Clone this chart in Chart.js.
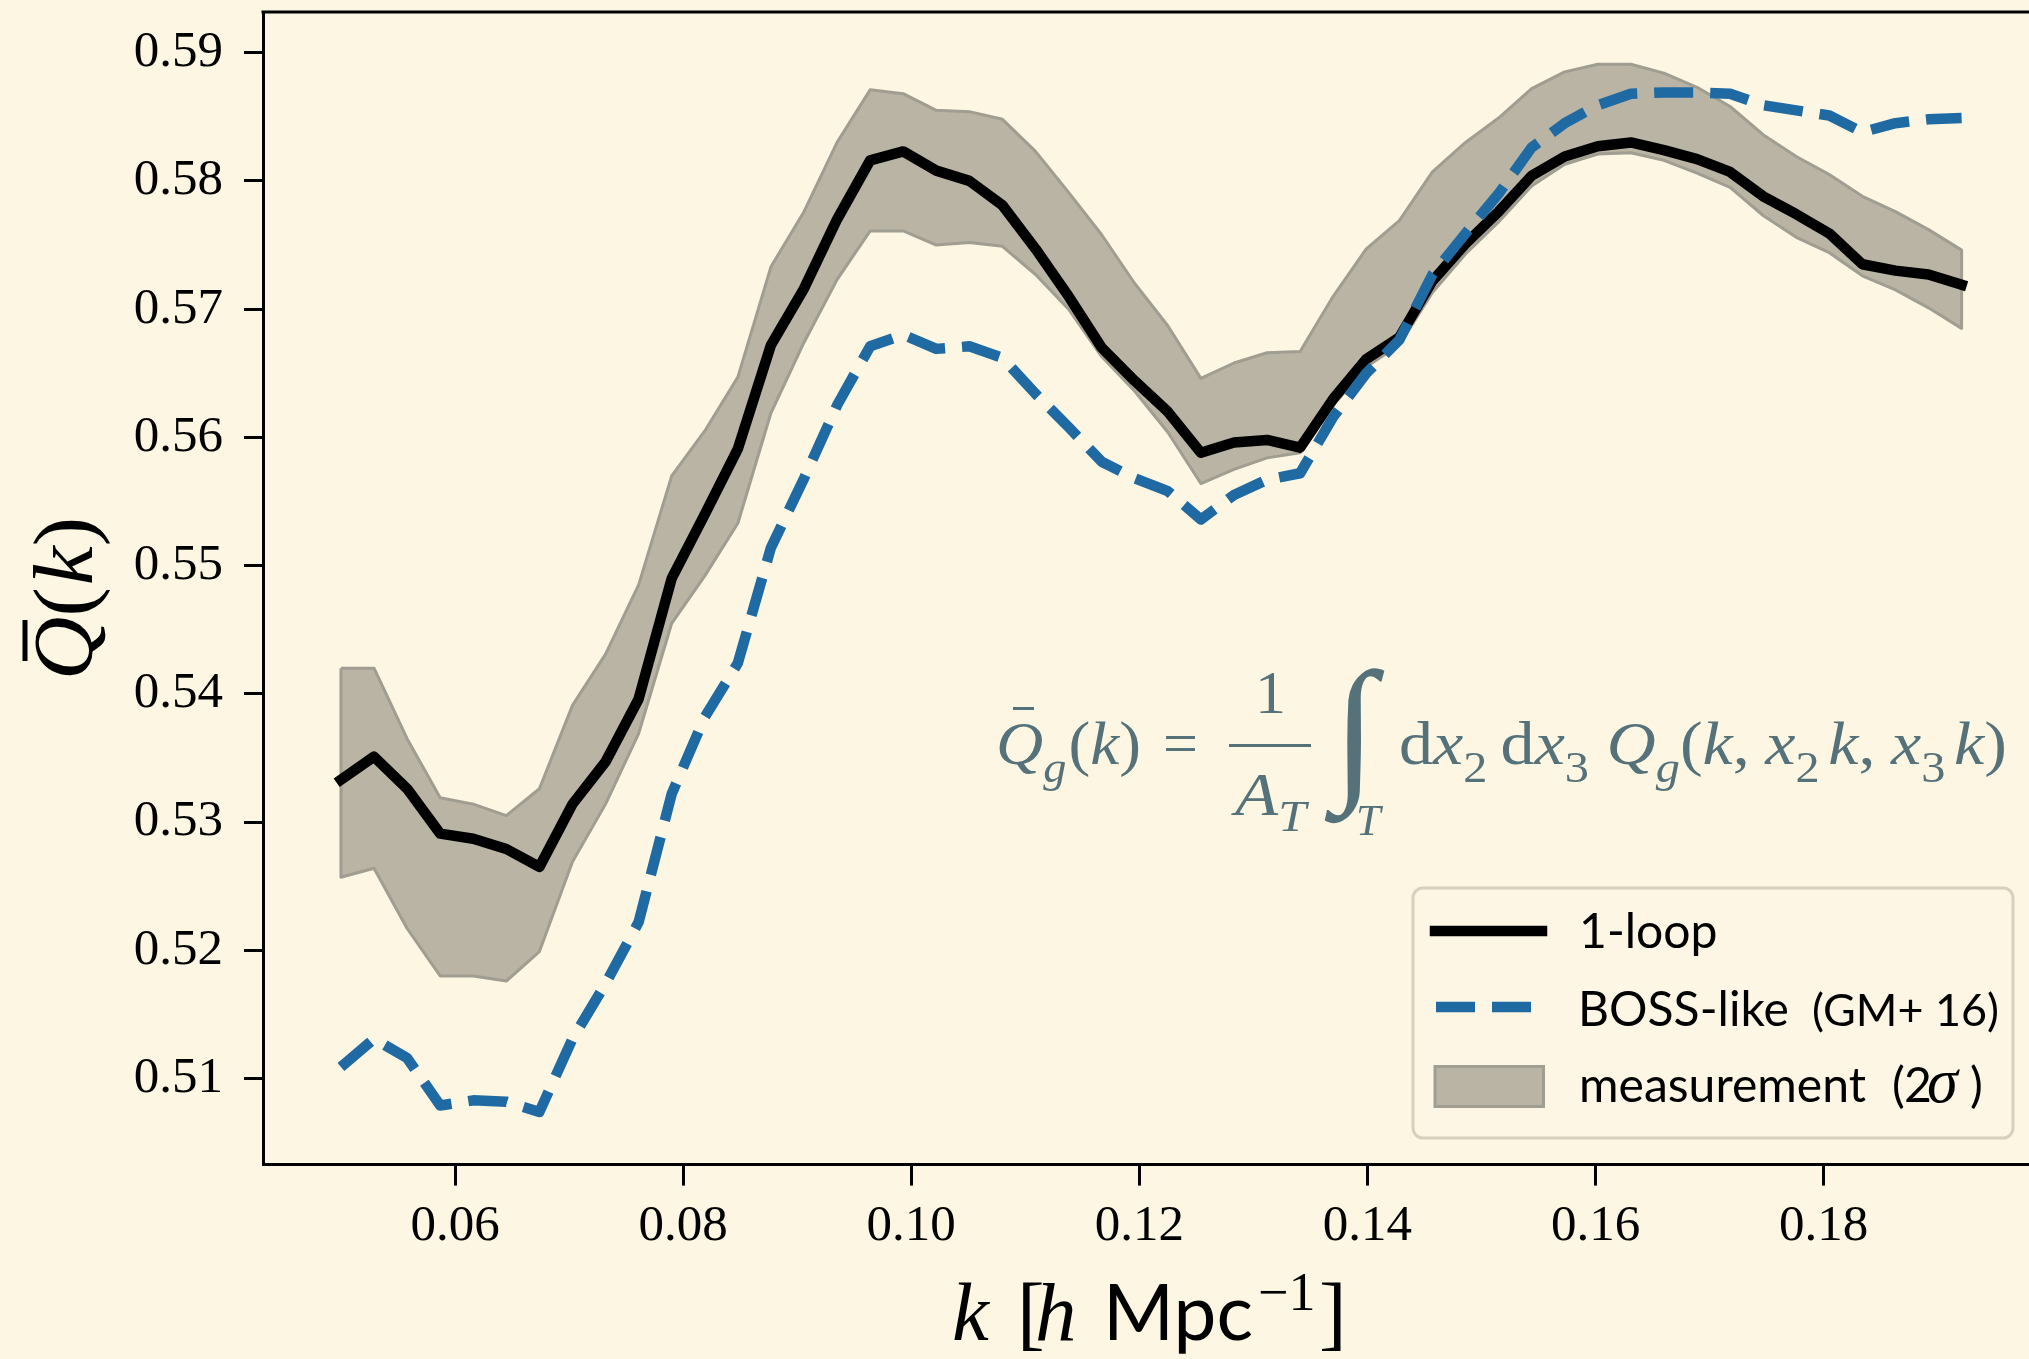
<!DOCTYPE html>
<html>
<head>
<meta charset="utf-8">
<title>Q(k) bispectrum ratio</title>
<script src="https://cdn.jsdelivr.net/npm/chart.js@4.4.0/dist/chart.umd.min.js"></script>
<style>
  html, body { margin: 0; padding: 0; background: #fdf6e3; }
  canvas { display: block; }
</style>
</head>
<body>
<canvas id="qChart" width="2029" height="1359"></canvas>
<script>
// k bins [h/Mpc]
const kValues = [0.0500, 0.0529, 0.0558, 0.0587, 0.0616, 0.0645, 0.0674, 0.0703, 0.0732, 0.0761,
                 0.0790, 0.0819, 0.0848, 0.0877, 0.0906, 0.0935, 0.0964, 0.0993, 0.1022, 0.1051,
                 0.1080, 0.1109, 0.1138, 0.1167, 0.1196, 0.1225, 0.1254, 0.1283, 0.1312, 0.1341,
                 0.1370, 0.1399, 0.1428, 0.1457, 0.1486, 0.1515, 0.1544, 0.1573, 0.1602, 0.1631,
                 0.1660, 0.1689, 0.1718, 0.1747, 0.1776, 0.1805, 0.1834, 0.1863, 0.1892, 0.1921];

const oneLoop = [0.5333, 0.5351, 0.5326, 0.5291, 0.5287, 0.5279, 0.5265, 0.5314, 0.5347, 0.5396,
                 0.5490, 0.5540, 0.5591, 0.5672, 0.5716, 0.5770, 0.5816, 0.5823, 0.5808, 0.5800,
                 0.5781, 0.5747, 0.5710, 0.5670, 0.5644, 0.5620, 0.5588, 0.5596, 0.5598, 0.5592,
                 0.5630, 0.5661, 0.5678, 0.5722, 0.5751, 0.5776, 0.5804, 0.5819, 0.5827, 0.5830,
                 0.5824, 0.5817, 0.5807, 0.5788, 0.5774, 0.5759, 0.5735, 0.5730, 0.5727, 0.5719];

const bossLike = [0.5109, 0.5131, 0.5116, 0.5079, 0.5083, 0.5082, 0.5074, 0.5131, 0.5174, 0.5222,
                  0.5322, 0.5382, 0.5424, 0.5514, 0.5568, 0.5625, 0.5671, 0.5680, 0.5669, 0.5671,
                  0.5662, 0.5634, 0.5608, 0.5581, 0.5568, 0.5558, 0.5536, 0.5555, 0.5567, 0.5572,
                  0.5616, 0.5650, 0.5676, 0.5727, 0.5759, 0.5790, 0.5826, 0.5845, 0.5859, 0.5868,
                  0.5869, 0.5869, 0.5868, 0.5859, 0.5855, 0.5851, 0.5838, 0.5845, 0.5848, 0.5849];

const measLower = [0.5257, 0.5264, 0.5217, 0.5180, 0.5180, 0.5176, 0.5199, 0.5269, 0.5314, 0.5369,
                   0.5455, 0.5492, 0.5533, 0.5619, 0.5674, 0.5723, 0.5761, 0.5761, 0.5750, 0.5752,
                   0.5749, 0.5727, 0.5700, 0.5663, 0.5636, 0.5604, 0.5564, 0.5575, 0.5584, 0.5588,
                   0.5625, 0.5655, 0.5672, 0.5713, 0.5743, 0.5768, 0.5796, 0.5813, 0.5821, 0.5822,
                   0.5816, 0.5806, 0.5795, 0.5773, 0.5756, 0.5744, 0.5726, 0.5715, 0.5701, 0.5685];

const measUpper = [0.5420, 0.5420, 0.5365, 0.5319, 0.5314, 0.5305, 0.5326, 0.5391, 0.5431, 0.5485,
                   0.5570, 0.5605, 0.5647, 0.5733, 0.5776, 0.5830, 0.5871, 0.5868, 0.5855, 0.5854,
                   0.5848, 0.5823, 0.5791, 0.5758, 0.5720, 0.5687, 0.5646, 0.5658, 0.5666, 0.5667,
                   0.5710, 0.5747, 0.5769, 0.5807, 0.5830, 0.5849, 0.5872, 0.5885, 0.5891, 0.5891,
                   0.5884, 0.5873, 0.5858, 0.5836, 0.5819, 0.5805, 0.5788, 0.5776, 0.5762, 0.5746];

const xTicks = [0.06, 0.08, 0.10, 0.12, 0.14, 0.16, 0.18];
const yTicks = [0.51, 0.52, 0.53, 0.54, 0.55, 0.56, 0.57, 0.58, 0.59];

const bgColor = '#fdf6e3';
const bandFill = '#b9b4a3';
const bandEdge = '#a09d91';
const blueColor = '#1f6aa3';
const formulaColor = '#557179';

const serif = '"Liberation Serif", "DejaVu Serif", serif';
const rm = s => s + 'px ' + serif;
const it = s => 'italic ' + s + 'px ' + serif;
const sans = s => s + 'px Lato, "Open Sans", sans-serif';

// closed outline of the 2-sigma band: upper edge forwards, lower edge back
const bandPoints = kValues.map((k, i) => ({ x: k, y: measUpper[i] }))
  .concat(kValues.map((k, i) => ({ x: k, y: measLower[i] })).reverse());
bandPoints.push(bandPoints[0]);

// draw a sequence of text pieces, squeezed/stretched to span x0..x1
function fitRuns(ctx, runs, x0, x1, base) {
  let w = 0;
  runs.forEach(r => { ctx.font = r.f; w += ctx.measureText(r.t).width + (r.gap || 0); });
  ctx.save();
  ctx.translate(x0, base);
  ctx.scale((x1 - x0) / w, 1);
  let x = 0;
  runs.forEach(r => {
    ctx.font = r.f;
    ctx.fillText(r.t, x, r.dy || 0);
    x += ctx.measureText(r.t).width + (r.gap || 0);
  });
  ctx.restore();
}

// place text so that its visible left edge sits at `left`
function drawAt(ctx, text, font, left, base) {
  ctx.font = font;
  const m = ctx.measureText(text);
  ctx.fillText(text, left + m.actualBoundingBoxLeft, base);
}

// font size that makes `text` span `width` pixels
function sizeFor(ctx, text, fontFn, width) {
  ctx.font = fontFn(100);
  return 100 * width / ctx.measureText(text).width;
}

function drawIntegral(ctx, left, top, bottom) {
  ctx.font = rm(100);
  let m = ctx.measureText('∫');
  const size = 100 * (bottom - top) / (m.actualBoundingBoxAscent + m.actualBoundingBoxDescent);
  ctx.font = rm(size);
  m = ctx.measureText('∫');
  ctx.fillText('∫', left + m.actualBoundingBoxLeft, top + m.actualBoundingBoxAscent);
}

function drawYTitle(ctx) {
  ctx.save();
  ctx.fillStyle = '#000';
  ctx.translate(91.5, 680);
  ctx.rotate(-Math.PI / 2);
  fitRuns(ctx, [
    { t: 'Q', f: it(85) }, { t: '(', f: rm(85), gap: 2 }, { t: 'k', f: it(85) }, { t: ')', f: rm(85) }
  ], 0, 163, 0);
  ctx.fillRect(19, -69, 41, 5);
  ctx.restore();
}

function drawXTitle(ctx) {
  ctx.fillStyle = '#000';
  const b = 1339.5;
  drawAt(ctx, 'k', it(83), 954, b);
  drawAt(ctx, '[', rm(83), 1023, b);
  drawAt(ctx, 'h', it(83), 1038, b);
  drawAt(ctx, 'Mpc', sans(sizeFor(ctx, 'Mpc', sans, 150)), 1110, b);
  drawAt(ctx, '−1', rm(54), 1260, 1310);
  drawAt(ctx, ']', rm(83), 1322, b);
}

function drawFormula(ctx) {
  ctx.fillStyle = formulaColor;
  const base = 764;
  fitRuns(ctx, [
    { t: 'Q', f: it(62) }, { t: 'g', f: it(44), dy: 18, gap: 2 },
    { t: '(', f: rm(62) }, { t: 'k', f: it(62) }, { t: ')', f: rm(62) }
  ], 996, 1141, base);
  ctx.fillRect(1013, 707, 21, 3);
  drawAt(ctx, '=', rm(62), 1166, base);
  drawAt(ctx, '1', rm(62), 1260, 713);
  ctx.fillRect(1229, 744, 82, 3);
  fitRuns(ctx, [{ t: 'A', f: it(62) }, { t: 'T', f: it(44), dy: 16 }], 1235, 1306, 815);
  drawIntegral(ctx, 1324, 668, 824);
  drawAt(ctx, 'T', it(44), 1358, 835);
  const sub = s => ({ t: s, f: rm(44), dy: 18 });
  fitRuns(ctx, [
    { t: 'd', f: rm(62) }, { t: 'x', f: it(62) }, Object.assign(sub('2'), { gap: 12 }),
    { t: 'd', f: rm(62) }, { t: 'x', f: it(62) }, Object.assign(sub('3'), { gap: 16 }),
    { t: 'Q', f: it(62) }, { t: 'g', f: it(44), dy: 18 },
    { t: '(', f: rm(62) }, { t: 'k', f: it(62) }, { t: ',', f: rm(62), gap: 14 },
    { t: 'x', f: it(62) }, Object.assign(sub('2'), { gap: 8 }), { t: 'k', f: it(62) }, { t: ',', f: rm(62), gap: 14 },
    { t: 'x', f: it(62) }, Object.assign(sub('3'), { gap: 8 }), { t: 'k', f: it(62) }, { t: ')', f: rm(62) }
  ], 1399, 2007, base);
}

function drawLegend(ctx, chart) {
  const [band, loop, boss] = chart.data.datasets;
  ctx.save();
  ctx.beginPath();
  ctx.roundRect(1413, 888, 600, 250, 10);
  ctx.fillStyle = 'rgba(253,246,227,0.8)';
  ctx.fill();
  ctx.lineWidth = 3;
  ctx.strokeStyle = '#d8d0bc';
  ctx.stroke();

  ctx.lineWidth = loop.borderWidth;
  ctx.strokeStyle = loop.borderColor;
  ctx.lineCap = 'square';
  ctx.beginPath(); ctx.moveTo(1435, 931); ctx.lineTo(1542, 931); ctx.stroke();

  ctx.lineWidth = boss.borderWidth;
  ctx.strokeStyle = boss.borderColor;
  ctx.lineCap = 'butt';
  ctx.setLineDash(boss.borderDash);
  ctx.beginPath(); ctx.moveTo(1436, 1007); ctx.lineTo(1531, 1007); ctx.stroke();
  ctx.setLineDash([]);

  ctx.fillStyle = band.backgroundColor;
  ctx.fillRect(1435, 1066.5, 108.5, 40);
  ctx.lineWidth = band.borderWidth;
  ctx.strokeStyle = band.borderColor;
  ctx.strokeRect(1435, 1066.5, 108.5, 40);

  ctx.fillStyle = '#000';
  const size = sizeFor(ctx, 'measurement', sans, 287);
  drawAt(ctx, '1-loop', sans(size), 1582, 948);
  drawAt(ctx, 'BOSS-like', sans(size), 1582, 1026);
  drawAt(ctx, '(GM+ 16)', sans(sizeFor(ctx, '(GM+ 16)', sans, 187)), 1814, 1026);
  drawAt(ctx, 'measurement', sans(size), 1582, 1102);
  drawAt(ctx, '(', sans(size), 1894, 1102);
  drawAt(ctx, '2', sans(size), 1906, 1102);
  drawAt(ctx, 'σ', it(size * 1.3), 1928, 1102);
  drawAt(ctx, ')', sans(size), 1971, 1102);
  ctx.restore();
}

const canvasBg = {
  id: 'canvasBg',
  beforeDraw(chart) {
    const { ctx, width, height } = chart;
    ctx.save();
    ctx.fillStyle = bgColor;
    ctx.fillRect(0, 0, width, height);
    ctx.restore();
  }
};

const decorations = {
  id: 'decorations',
  afterDraw(chart) {
    const { ctx, chartArea: a } = chart;
    ctx.save();
    // top spine
    ctx.strokeStyle = '#000';
    ctx.lineWidth = 3;
    ctx.beginPath();
    ctx.moveTo(a.left - 1.5, a.top);
    ctx.lineTo(a.right, a.top);
    ctx.stroke();
    ctx.textBaseline = 'alphabetic';
    ctx.textAlign = 'left';
    drawYTitle(ctx);
    drawXTitle(ctx);
    drawFormula(ctx);
    drawLegend(ctx, chart);
    ctx.restore();
  }
};

const ctx = document.getElementById('qChart').getContext('2d');
new Chart(ctx, {
  type: 'line',
  data: {
    datasets: [
      {
        label: 'measurement (2σ)',
        data: bandPoints,
        fill: 'shape',
        backgroundColor: bandFill,
        borderColor: bandEdge,
        borderWidth: 3,
        borderJoinStyle: 'round',
        pointRadius: 0,
        order: 3
      },
      {
        label: '1-loop',
        data: kValues.map((k, i) => ({ x: k, y: oneLoop[i] })),
        fill: false,
        borderColor: '#000000',
        borderWidth: 10.5,
        borderCapStyle: 'square',
        borderJoinStyle: 'round',
        pointRadius: 0,
        order: 1
      },
      {
        label: 'BOSS-like (GM+ 16)',
        data: kValues.map((k, i) => ({ x: k, y: bossLike[i] })),
        fill: false,
        borderColor: blueColor,
        borderWidth: 10.5,
        borderDash: [39, 17],
        borderCapStyle: 'butt',
        borderJoinStyle: 'round',
        pointRadius: 0,
        order: 0
      }
    ]
  },
  options: {
    responsive: false,
    animation: false,
    devicePixelRatio: 1,
    layout: { padding: { top: 12, left: 0, right: 0, bottom: 0 } },
    elements: { line: { tension: 0 } },
    plugins: {
      legend: { display: false },
      tooltip: { enabled: false }
    },
    scales: {
      x: {
        type: 'linear',
        min: 0.043165,
        max: 0.198009,
        afterBuildTicks: s => { s.ticks = xTicks.map(v => ({ value: v })); },
        afterFit: s => { s.height = 194.4; s.paddingLeft = 0; s.paddingRight = 0; },
        grid: { display: true, drawOnChartArea: false, drawTicks: true, tickLength: 21, tickWidth: 3, tickColor: '#000' },
        border: { display: true, color: '#000', width: 3 },
        ticks: {
          color: '#000',
          font: { family: serif, size: 51, lineHeight: 1.2 },
          padding: 10,
          maxRotation: 0,
          autoSkip: false,
          callback: v => v.toFixed(2)
        }
      },
      y: {
        type: 'linear',
        min: 0.50329,
        max: 0.59317,
        afterBuildTicks: s => { s.ticks = yTicks.map(v => ({ value: v })); },
        afterFit: s => { s.width = 263; s.paddingTop = 0; s.paddingBottom = 0; },
        grid: { display: true, drawOnChartArea: false, drawTicks: true, tickLength: 19, tickWidth: 3, tickColor: '#000' },
        border: { display: true, color: '#000', width: 3 },
        ticks: {
          color: '#000',
          font: { family: serif, size: 51 },
          padding: 21,
          autoSkip: false,
          callback: v => v.toFixed(2)
        }
      }
    }
  },
  plugins: [canvasBg, decorations]
});
</script>
</body>
</html>
